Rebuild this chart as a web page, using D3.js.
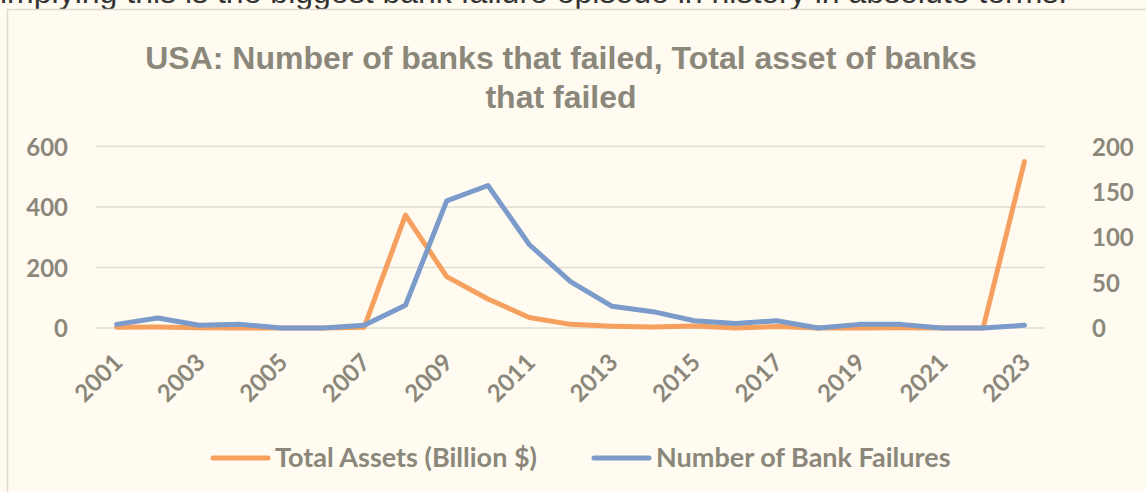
<!DOCTYPE html>
<html><head><meta charset="utf-8">
<script src="https://cdn.jsdelivr.net/npm/d3@7"></script>
<style>
html,body{margin:0;padding:0;background:#fffbf0;}
svg{display:block;}
</style></head>
<body>
<script>
const years = ["2001","2002","2003","2004","2005","2006","2007","2008","2009","2010","2011","2012","2013","2014","2015","2016","2017","2018","2019","2020","2021","2022","2023"];
const totalAssets = [2.3,2.9,1.0,0.2,0,0,2.6,373,170,96,35,12,6,3,6.7,0.3,5,0,0.2,0.5,0,0,550];
const bankFailures = [4,11,3,4,0,0,3,25,140,157,92,51,24,18,8,5,8,0,4,4,0,0,3];
const leftTicks = [0,200,400,600];
const rightTicks = [0,50,100,150,200];
const xLabels = ["2001","2003","2005","2007","2009","2011","2013","2015","2017","2019","2021","2023"];
const titleLines = ["USA: Number of banks that failed, Total asset of banks","that failed"];
const seriesNames = ["Total Assets (Billion $)","Number of Bank Failures"];
const colors = ["#f5a05f","#7b9bcb"];

const W=1146,H=492;
const svg=d3.select("body").append("svg").attr("width",W).attr("height",H);
svg.append("rect").attr("width",W).attr("height",H).attr("fill","#fffbf0");
// caption cut off at top
svg.append("text").attr("x",0).attr("y",3).attr("font-family","Liberation Sans, Arial, sans-serif")
  .attr("font-size",32).attr("fill","#333").text("implying this is the biggest bank failure episode in history in absolute terms.");
// chart box
svg.append("rect").attr("x",7.5).attr("y",9.5).attr("width",W).attr("height",H).attr("fill","#fffbf0").attr("stroke","#dedad0").attr("stroke-width",1.5);

const textCol="#8b877b";
const x=d3.scalePoint().domain(years).range([116.6,1024.4]);
const yL=d3.scaleLinear().domain([0,600]).range([328,146.5]);
const yR=d3.scaleLinear().domain([0,200]).range([328,146.5]);

// title
const t=svg.append("text").attr("font-family","Liberation Sans, Arial, sans-serif").attr("font-weight","bold")
  .attr("font-size",32).attr("fill",textCol).attr("text-anchor","middle");
titleLines.forEach((s,i)=>t.append("tspan").attr("x",561).attr("y",69+i*39).text(s));

// gridlines
svg.append("g").selectAll("line").data(leftTicks).join("line")
  .attr("x1",96).attr("x2",1045).attr("y1",d=>yL(d)).attr("y2",d=>yL(d))
  .attr("stroke","#e2ded4").attr("stroke-width",1.5);

const fnt="Lato, 'Open Sans', sans-serif";
// left axis
const gL=svg.append("g").attr("transform","translate(68,0)").call(d3.axisLeft(yL).tickValues(leftTicks).tickSize(0).tickPadding(0));
gL.select(".domain").remove();
gL.selectAll("text").attr("font-family",fnt).attr("font-weight","bold").attr("font-size",24).attr("fill",textCol).attr("dy","0.36em");
// right axis
const gR=svg.append("g").attr("transform","translate(1092,0)").call(d3.axisRight(yR).tickValues(rightTicks).tickSize(0).tickPadding(0));
gR.select(".domain").remove();
gR.selectAll("text").attr("font-family",fnt).attr("font-weight","bold").attr("font-size",24).attr("fill",textCol).attr("dy","0.36em");
// x axis
const gX=svg.append("g").attr("transform","translate(0,338)").call(d3.axisBottom(x).tickValues(xLabels).tickSize(0).tickPadding(0));
gX.select(".domain").remove();
gX.selectAll("text").attr("font-family",fnt).attr("font-weight","bold").attr("font-size",24).attr("fill",textCol)
  .attr("text-anchor","end").attr("dy","0").attr("y",0).attr("transform","translate(7,26) rotate(-45)");

// lines
const lineL=d3.line().x((d,i)=>x(years[i])).y(d=>yL(d));
const lineR=d3.line().x((d,i)=>x(years[i])).y(d=>yR(d));
svg.append("path").datum(totalAssets).attr("d",lineL).attr("fill","none").attr("stroke",colors[0]).attr("stroke-width",5).attr("stroke-linejoin","round").attr("stroke-linecap","round");
svg.append("path").datum(bankFailures).attr("d",lineR).attr("fill","none").attr("stroke",colors[1]).attr("stroke-width",5).attr("stroke-linejoin","round").attr("stroke-linecap","round");

// legend
const legX=[213,594];
seriesNames.forEach((n,i)=>{
  svg.append("line").attr("x1",legX[i]).attr("x2",legX[i]+55).attr("y1",458).attr("y2",458).attr("stroke",colors[i]).attr("stroke-width",5).attr("stroke-linecap","round");
  svg.append("text").attr("x",legX[i]+62).attr("y",467).attr("font-family",fnt).attr("font-weight","bold").attr("font-size",27).attr("fill",textCol).text(n);
});
</script>
</body></html>
